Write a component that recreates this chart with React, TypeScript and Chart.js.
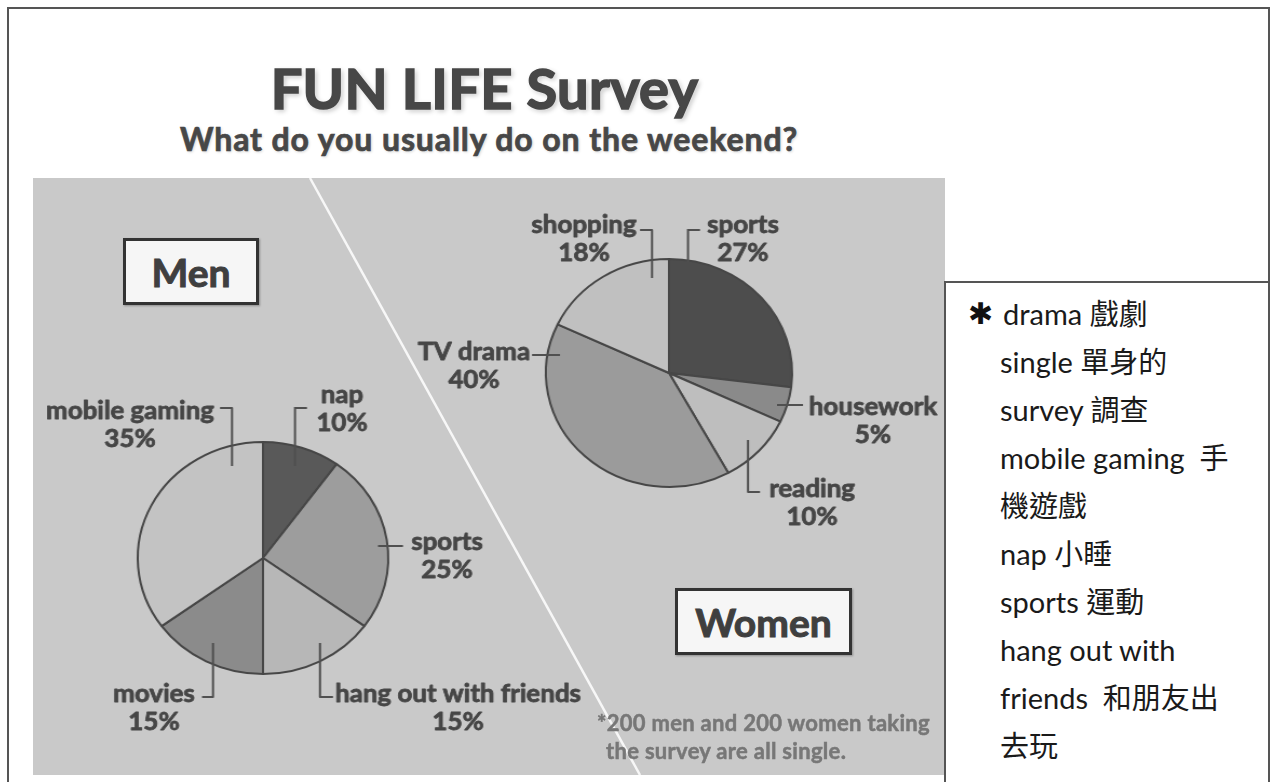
import React, { useEffect, useRef } from "react";
import { Chart, registerables } from "chart.js";

Chart.register(...registerables);

// ---------- data ----------
const TITLE = "FUN LIFE Survey";
const SUBTITLE = "What do you usually do on the weekend?";
const MEN_LABELS = ["nap", "sports", "hang out with friends", "movies", "mobile gaming"];
const MEN_VALUES = [10, 25, 15, 15, 35];
const WOMEN_LABELS = ["sports", "housework", "reading", "TV drama", "shopping"];
const WOMEN_VALUES = [27, 5, 10, 40, 18];
const FOOTNOTE = ["*200 men and 200 women taking", "the survey are all single."];
const GLOSSARY = [
  "drama 戲劇",
  "single 單身的",
  "survey 調查",
  "mobile gaming  手",
  "機遊戲",
  "nap 小睡",
  "sports 運動",
  "hang out with",
  "friends  和朋友出",
  "去玩",
];

// ---------- styles ----------
const MEN_COLORS = ["#595959", "#9d9d9d", "#b7b7b7", "#8b8b8b", "#c3c3c3"];
const WOMEN_COLORS = ["#4d4d4d", "#8a8a8a", "#bebebe", "#9b9b9b", "#c0c0c0"];
const STRETCH = 1.08;
const LABEL_FONT = "bold 24px Lato, 'Open Sans', sans-serif";
const TEXT_COLOR = "#464646";

// label layout (screen px offsets from pie centre)
const MEN_LAYOUT = [
  { tx: 79, ty: -155, leader: [[44, -150], [32, -150], [32, -92]] },
  { tx: 184, ty: -8, leader: [[115, -12], [140, -12]] },
  { tx: 195, ty: 144, leader: [[57, 85], [57, 139], [70, 139]] },
  { tx: -109, ty: 144, leader: [[-50, 85], [-50, 139], [-61, 139]] },
  { tx: -133, ty: -139, leader: [[-43, -150], [-31, -150], [-31, -92]] },
];
const WOMEN_LAYOUT = [
  { tx: 74, ty: -140, leader: [[31, -143], [19, -143], [19, -111]] },
  { tx: 204, ty: 42, leader: [[108, 32], [134, 32]] },
  { tx: 143, ty: 124, leader: [[79, 67], [79, 119], [91, 119]] },
  { tx: -195, ty: -13, leader: [[-137, -18], [-109, -18]] },
  { tx: -85, ty: -140, leader: [[-29, -143], [-17, -143], [-17, -95]] },
];

const leaderPlugin = {
  id: "leaderLabels",
  afterDatasetsDraw(chart: any, _args: any, opts: any) {
    const meta = chart.getDatasetMeta(0);
    const a0 = meta.data[0];
    if (!a0 || !opts.layout) return;
    const cx = a0.x;
    const cy = a0.y;
    const sx = opts.stretch || 1;
    const ctx = chart.ctx;
    const labels = chart.data.labels;
    const values = chart.data.datasets[0].data;
    ctx.save();
    opts.layout.forEach((L: any, i: number) => {
      ctx.strokeStyle = "#505050";
      ctx.lineWidth = 2;
      ctx.beginPath();
      L.leader.forEach((p: number[], k: number) => {
        const px = cx + p[0] / sx;
        const py = cy + p[1];
        if (k) ctx.lineTo(px, py);
        else ctx.moveTo(px, py);
      });
      ctx.stroke();
      ctx.fillStyle = TEXT_COLOR;
      ctx.strokeStyle = TEXT_COLOR;
      ctx.lineWidth = 0.8;
      ctx.lineJoin = "round";
      ctx.font = LABEL_FONT;
      ctx.textAlign = "center";
      ctx.textBaseline = "alphabetic";
      const t1 = String(labels[i]);
      const t2 = values[i] + "%";
      const x = cx + L.tx / sx;
      ctx.fillText(t1, x, cy + L.ty);
      ctx.strokeText(t1, x, cy + L.ty);
      ctx.fillText(t2, x, cy + L.ty + 28);
      ctx.strokeText(t2, x, cy + L.ty + 28);
    });
    ctx.restore();
  },
};

function PieChart(props: {
  labels: string[];
  values: number[];
  colors: string[];
  layout: any[];
  radius: number;
  cx: number;
  cy: number;
  w: number;
  h: number;
}) {
  const ref = useRef<HTMLCanvasElement | null>(null);
  useEffect(() => {
    if (!ref.current) return;
    const chart = new Chart(ref.current, {
      type: "pie",
      data: {
        labels: props.labels,
        datasets: [
          {
            data: props.values,
            backgroundColor: props.colors,
            borderColor: "#474747",
            borderWidth: 2,
          },
        ],
      },
      options: {
        responsive: false,
        animation: false,
        events: [],
        radius: props.radius,
        layout: { padding: 0 },
        plugins: {
          legend: { display: false },
          tooltip: { enabled: false },
          title: { display: false },
          leaderLabels: { layout: props.layout, stretch: STRETCH },
        } as any,
      } as any,
      plugins: [leaderPlugin],
    });
    return () => chart.destroy();
  }, []);
  return (
    <div
      style={{
        position: "absolute",
        left: props.cx - props.w / 2,
        top: props.cy - props.h / 2,
        width: props.w,
        height: props.h,
        transform: `scaleX(${STRETCH})`,
        transformOrigin: "center center",
      }}
    >
      <canvas ref={ref} width={props.w} height={props.h} />
    </div>
  );
}

const boxStyle = (left: number, top: number, w: number, h: number): React.CSSProperties => ({
  position: "absolute",
  left,
  top,
  width: w,
  height: h,
  boxSizing: "border-box",
  border: "3px solid #333",
  background: "#f6f6f6",
  display: "flex",
  alignItems: "center",
  justifyContent: "center",
  font: "bold 39px Lato, sans-serif",
  color: "#3f3f3f",
  WebkitTextStroke: "1px #3f3f3f",
  boxShadow: "1px 1px 2px rgba(0,0,0,0.3)",
});

export default function App() {
  return (
    <div
      style={{
        position: "absolute",
        left: 0,
        top: 0,
        width: 1276,
        height: 782,
        overflow: "hidden",
        background: "#ffffff",
        fontFamily: "Lato, 'Noto Sans CJK TC', sans-serif",
      }}
    >
      {/* outer frame */}
      <div
        style={{
          position: "absolute",
          left: 7,
          top: 7,
          width: 1263,
          height: 820,
          boxSizing: "border-box",
          border: "2px solid #555",
        }}
      />
      {/* gray panel */}
      <div style={{ position: "absolute", left: 33, top: 178, width: 912, height: 597, background: "#c9c9c9" }} />
      <svg style={{ position: "absolute", left: 0, top: 0 }} width={1276} height={782}>
        <line x1={310} y1={178} x2={640} y2={775} stroke="rgba(255,255,255,0.85)" strokeWidth={2.5} />
      </svg>

      {/* titles */}
      <div
        style={{
          position: "absolute",
          left: 0,
          width: 969,
          top: 60,
          textAlign: "center",
          font: "bold 56px Lato, sans-serif",
          lineHeight: "56px",
          letterSpacing: "0.3px",
          color: "#474747",
          WebkitTextStroke: "1.6px #474747",
          textShadow: "0 0 5px rgba(255,255,255,1), 2px 2px 5px rgba(0,0,0,0.3)",
          whiteSpace: "nowrap",
        }}
      >
        {TITLE}
      </div>
      <div
        style={{
          position: "absolute",
          left: 0,
          width: 978,
          top: 122,
          textAlign: "center",
          font: "bold 32px Lato, sans-serif",
          lineHeight: "34px",
          letterSpacing: "0.9px",
          color: "#474747",
          WebkitTextStroke: "0.7px #474747",
          textShadow: "1px 1px 3px rgba(0,0,0,0.2)",
          whiteSpace: "nowrap",
        }}
      >
        {SUBTITLE}
      </div>

      {/* pies */}
      <PieChart
        labels={MEN_LABELS}
        values={MEN_VALUES}
        colors={MEN_COLORS}
        layout={MEN_LAYOUT}
        radius={116}
        cx={263}
        cy={558}
        w={620}
        h={380}
      />
      <PieChart
        labels={WOMEN_LABELS}
        values={WOMEN_VALUES}
        colors={WOMEN_COLORS}
        layout={WOMEN_LAYOUT}
        radius={114}
        cx={669}
        cy={373}
        w={540}
        h={350}
      />

      {/* group boxes */}
      <div style={boxStyle(123, 238, 136, 67)}>Men</div>
      <div style={boxStyle(675, 588, 177, 67)}>Women</div>

      {/* footnote */}
      {FOOTNOTE.map((t, i) => (
        <div
          key={i}
          style={{
            position: "absolute",
            left: i === 0 ? 597 : 606,
            top: 709 + i * 28,
            font: "bold 22px Lato, sans-serif",
            lineHeight: "28px",
            letterSpacing: "0.3px",
            color: "#777777",
            WebkitTextStroke: "0.5px #777777",
            whiteSpace: "nowrap",
          }}
        >
          {t}
        </div>
      ))}

      {/* glossary box */}
      <div style={{ position: "absolute", left: 944, top: 281, width: 326, height: 2, background: "#555" }} />
      <div style={{ position: "absolute", left: 944, top: 281, width: 2, height: 510, background: "#555" }} />
      <div
        style={{
          position: "absolute",
          left: 968,
          top: 290,
          font: "bold 30px 'DejaVu Sans', sans-serif",
          lineHeight: "48px",
          color: "#111",
        }}
      >
        ✱
      </div>
      {GLOSSARY.map((t, i) => (
        <div
          key={i}
          style={{
            position: "absolute",
            left: i === 0 ? 1003 : 1000,
            top: 290 + i * 48,
            font: "29px Lato, 'Noto Sans CJK TC', sans-serif",
            lineHeight: "48px",
            color: "#1a1a1a",
            whiteSpace: "pre",
          }}
        >
          {t}
        </div>
      ))}
    </div>
  );
}
